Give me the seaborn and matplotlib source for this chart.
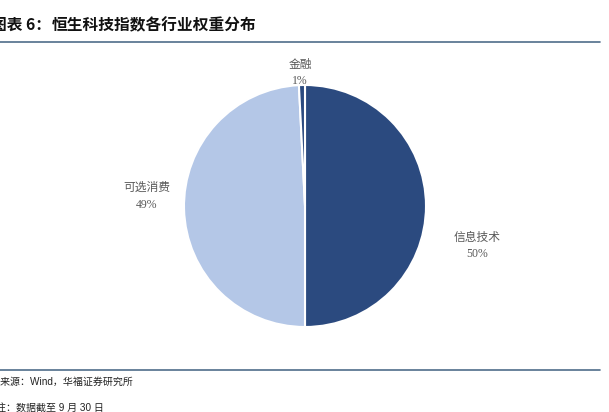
import matplotlib.pyplot as plt
import seaborn as sns

# 数据
sectors = ['信息技术', '可选消费', '金融']
weights = [50.0, 49.2, 0.8]
pct_labels = ['50%', '49%', '1%']

sns.set_theme(style="white")
plt.rcParams['font.family'] = ['Liberation Serif', 'Noto Sans CJK SC', 'DejaVu Sans']
plt.rcParams['axes.unicode_minus'] = False

colors = ['#2B4A7F', '#B4C7E7', '#2B4A7F']

fig = plt.figure(figsize=(6.09, 4.12), dpi=100)
fig.patch.set_facecolor('white')

# 饼图区域
ax = fig.add_axes([184 / 609, 85 / 412, 242 / 609, 242 / 412])
wedges, _ = ax.pie(weights, colors=colors, startangle=90, counterclock=False,
                   wedgeprops=dict(edgecolor='white', linewidth=1.5), radius=1)
ax.set_xlim(-1, 1)
ax.set_ylim(-1, 1)
ax.set_aspect('equal')
ax.axis('off')

# 标签位置（数据坐标）
label_pos = [(1.42, -0.33), (-1.31, 0.08), (-0.04, 1.10)]
for name, pct, (x, y) in zip(sectors, pct_labels, label_pos):
    ax.text(x, y, f'{name}\n{pct}', ha='center', va='center', fontsize=8.5,
            color='#595959', linespacing=1.5, clip_on=False)

# 标题与分隔线
title_font = dict(fontsize=11.3, fontweight='bold', color='#111111', ha='left',
                  va='center', family=['Noto Sans CJK SC', 'DejaVu Sans'])
fig.text(-9 / 609, 1 - 25 / 412, '图表 6：', **title_font)
fig.text(52 / 609, 1 - 25 / 412, '恒生科技指数各行业权重分布', **title_font)
fig.add_artist(plt.Line2D([0, 600 / 609], [1 - 42 / 412] * 2, color='#4F6D8A',
                          linewidth=1.2, transform=fig.transFigure))
fig.add_artist(plt.Line2D([0, 600 / 609], [1 - 370 / 412] * 2, color='#4F6D8A',
                          linewidth=1.2, transform=fig.transFigure))

# 脚注
fig.text(-19 / 609, 1 - 382 / 412, '资料来源：Wind，华福证券研究所', fontsize=7.2,
         color='#222222', ha='left', va='center',
         family=['Liberation Sans', 'Noto Sans CJK SC'])
fig.text(-4 / 609, 1 - 408 / 412, '注：数据截至 9 月 30 日', fontsize=7.2,
         color='#222222', ha='left', va='center',
         family=['Liberation Sans', 'Noto Sans CJK SC'])

plt.savefig('out.png', dpi=100)
plt.close()
